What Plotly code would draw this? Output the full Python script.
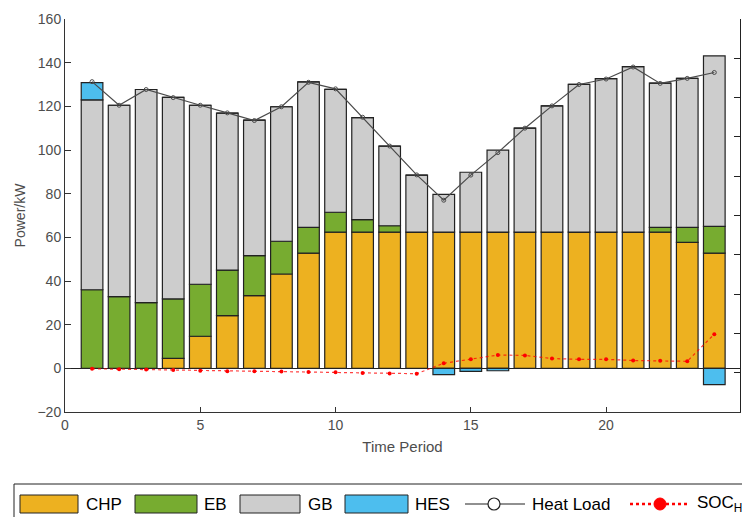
import plotly.graph_objects as go

periods = list(range(1, 25))
chp = [0, 0, 0, 4.6, 14.7, 24.1, 33.3, 43.2, 52.8, 62.4, 62.4, 62.4,
       62.4, 62.4, 62.4, 62.4, 62.4, 62.4, 62.4, 62.4, 62.4, 62.4, 57.7, 52.8]
eb = [36.0, 32.8, 30.1, 27.2, 23.8, 20.9, 18.3, 15.0, 11.8, 9.1, 5.7, 2.9,
      0, 0, 0, 0, 0, 0, 0, 0, 0, 2.2, 6.9, 12.2]
gb = [87.0, 87.7, 97.6, 92.3, 82.0, 71.9, 62.1, 61.6, 66.6, 56.3, 46.7, 36.5,
      26.1, 17.3, 27.4, 37.5, 47.6, 57.8, 67.7, 70.3, 75.8, 66.0, 68.2, 78.1]
hes = [7.9, 0, 0, 0, 0, 0, 0, 0, 0, 0, 0, 0,
       0, -2.9, -1.4, -1.1, 0, 0, 0, 0, 0, 0, 0, -7.5]
heat_load = [131.3, 120.5, 127.7, 124.0, 120.5, 117.0, 113.5, 119.8, 131.0, 128.0, 115.0, 101.8,
             88.6, 77.0, 88.5, 98.8, 110.0, 120.2, 130.0, 132.5, 138.0, 130.5, 132.8, 135.5]
soc_h = [0.110, 0.109, 0.108, 0.107, 0.105, 0.104, 0.104, 0.103, 0.102, 0.101, 0.099, 0.098,
         0.0975, 0.124, 0.134, 0.145, 0.144, 0.136, 0.134, 0.134, 0.131, 0.1305, 0.129, 0.198]

x_ticks = [0, 5, 10, 15, 20]

FONT = "Liberation Sans, Arial, sans-serif"
W, H = 750, 517
# the page body adds an 8px offset; plot area on screen spans x 65..740, y 19..412
OFF = 8
SX0, SX1, SY0, SY1 = 65, 740, 19, 412
ML, MT = SX0 - OFF, SY0 - OFF
MR, MB = W - (SX1 - OFF), H - (SY1 - OFF)
PW, PH = SX1 - SX0, SY1 - SY0


def px(xs):
    return (xs - SX0) / PW


def py(ys):
    return (SY1 - ys) / PH


edge = dict(color="#222222", width=1.2)
colors = {"CHP": "#EDB120", "EB": "#77AC30", "GB": "#CDCDCD", "HES": "#4DBEEE"}

fig = go.Figure()
fig.add_trace(go.Bar(x=periods, y=chp, name="CHP", marker=dict(color=colors["CHP"], line=edge)))
fig.add_trace(go.Bar(x=periods, y=eb, name="EB", marker=dict(color=colors["EB"], line=edge)))
fig.add_trace(go.Bar(x=periods, y=gb, name="GB", marker=dict(color=colors["GB"], line=edge)))
fig.add_trace(go.Bar(x=periods, y=hes, name="HES", marker=dict(color=colors["HES"], line=edge)))
fig.add_trace(go.Scatter(x=periods, y=heat_load, name="Heat Load", mode="lines+markers",
                         line=dict(color="#4a4a4a", width=1.2),
                         marker=dict(symbol="circle-open", size=4, color="#4a4a4a", line=dict(width=1))))
fig.add_trace(go.Scatter(x=periods, y=soc_h, name="SOC<sub>H</sub>", mode="lines+markers", yaxis="y2",
                         line=dict(color="rgba(255,0,0,0.75)", width=1.2, dash="dot"),
                         marker=dict(symbol="circle", size=4, color="#ff0000")))

axis_font = dict(family=FONT, size=14, color="#4d4d4d")

# custom legend (MATLAB style, wide swatches); coordinates are screen pixels
shapes = []
annotations = []
shapes.append(dict(type="rect", xref="paper", yref="paper", x0=px(14), x1=px(770), y0=py(484), y1=py(540),
                   line=dict(color="#222", width=1), fillcolor="white", layer="above"))
ly = 504
swatches = [("CHP", 20, 78, 84), ("EB", 135, 197, 202), ("GB", 240, 300, 306), ("HES", 345, 408, 413)]
for name, x0, x1, tx in swatches:
    shapes.append(dict(type="rect", xref="paper", yref="paper", x0=px(x0), x1=px(x1), y0=py(513), y1=py(495),
                       line=dict(color="#222", width=1), fillcolor=colors[name], layer="above"))
    annotations.append(dict(text=name, xref="paper", yref="paper", x=px(tx), y=py(ly), xanchor="left",
                            yanchor="middle", showarrow=False, font=dict(family=FONT, size=17, color="#000")))
shapes.append(dict(type="line", xref="paper", yref="paper", x0=px(465), x1=px(525), y0=py(ly), y1=py(ly),
                   line=dict(color="#222", width=1.2), layer="above"))
shapes.append(dict(type="circle", xref="paper", yref="paper", x0=px(488), x1=px(500), y0=py(ly + 6), y1=py(ly - 6),
                   line=dict(color="#222", width=1.2), fillcolor="white", layer="above"))
annotations.append(dict(text="Heat Load", xref="paper", yref="paper", x=px(530), y=py(ly), xanchor="left",
                        yanchor="middle", showarrow=False, font=dict(family=FONT, size=17, color="#000")))
shapes.append(dict(type="line", xref="paper", yref="paper", x0=px(630), x1=px(690), y0=py(ly), y1=py(ly),
                   line=dict(color="#ff0000", width=2.5, dash="dot"), layer="above"))
shapes.append(dict(type="circle", xref="paper", yref="paper", x0=px(654), x1=px(666), y0=py(ly + 6), y1=py(ly - 6),
                   line=dict(color="#ff0000", width=1), fillcolor="#ff0000", layer="above"))
annotations.append(dict(text="SOC<sub>H</sub>", xref="paper", yref="paper", x=px(695), y=py(ly), xanchor="left",
                        yanchor="middle", showarrow=False, font=dict(family=FONT, size=17, color="#000")))

fig.update_layout(
    width=W, height=H,
    margin=dict(l=ML, r=MR, t=MT, b=MB, autoexpand=False),
    paper_bgcolor="white", plot_bgcolor="white",
    barmode="relative", bargap=0.2,
    showlegend=False,
    font=dict(family=FONT, color="#000"),
    xaxis=dict(range=[0, 24.95], tickvals=x_ticks, ticks="inside", ticklen=5, tickcolor="#333",
               showline=True, linecolor="#333", linewidth=1, showgrid=False, zeroline=False,
               tickfont=axis_font, automargin=False,
               title=dict(text="Time Period", font=dict(family=FONT, size=15, color="#4d4d4d"), standoff=9)),
    yaxis=dict(range=[-20, 160], dtick=20, ticks="inside", ticklen=6, tickcolor="#333",
               showline=True, linecolor="#333", linewidth=1, showgrid=False,
               zeroline=True, zerolinecolor="#222", zerolinewidth=1,
               tickfont=axis_font, automargin=False,
               title=dict(text="Power/kW", font=dict(family=FONT, size=14, color="#4d4d4d"), standoff=8)),
    yaxis2=dict(range=[0, 1], dtick=0.1, overlaying="y", side="right", ticks="inside", ticklen=6,
                tickcolor="#222", showline=True, linecolor="#222", linewidth=1, showgrid=False,
                zeroline=False, tickfont=dict(family=FONT, size=14, color="#222"),
                automargin=False),
    shapes=shapes,
    annotations=annotations,
)

fig.write_html("out.html")
